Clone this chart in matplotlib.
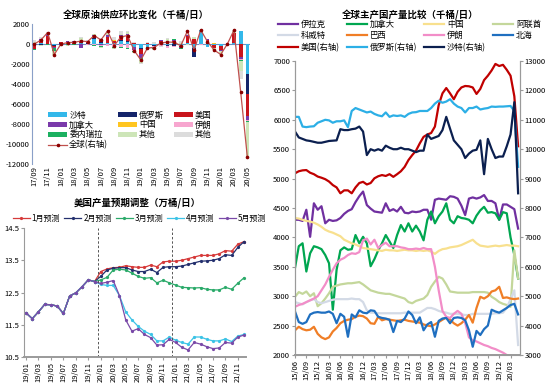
import numpy as np
import matplotlib
matplotlib.use("Agg")
import matplotlib.pyplot as plt
from matplotlib.patches import Patch
from matplotlib.lines import Line2D

plt.rcParams['font.family'] = ['Noto Sans CJK SC', 'DejaVu Sans']
plt.rcParams['axes.unicode_minus'] = False

# ---------------- panel 1: monthly change in global supply (kb/d) ----------------
supply_months = ['17/09', '17/10', '17/11', '17/12', '18/01', '18/02', '18/03', '18/04', '18/05',
                 '18/06', '18/07', '18/08', '18/09', '18/10', '18/11', '18/12', '19/01', '19/02',
                 '19/03', '19/04', '19/05', '19/06', '19/07', '19/08', '19/09', '19/10', '19/11',
                 '19/12', '20/01', '20/02', '20/03', '20/04', '20/05']
saudi_chg = [-100, 150, 50, -100, 50, 0, 50, 100, 50, 500, 150, 100, 100, 300, 200, -300, -400,
             -300, -100, 50, -50, 100, -200, 100, -400, 1400, -300, -100, -150, 0, 100, 1300, -3000]
russia_chg = [0, -50, 0, -50, 50, 50, 0, 0, 50, 150, 100, 50, 50, 100, 100, 50, -50, 50, -50, 50,
              -100, -150, 0, 50, -900, 50, 50, 50, 0, 0, 50, 0, -2000]
us_chg = [-400, 300, 800, -100, 100, 200, 200, 200, 200, 200, 250, 600, 200, 400, 600, 100, -500,
          100, 0, 250, 300, 200, -100, 700, 500, 0, 400, -300, -400, 50, 1000, -1300, -2200]
canada_chg = [100, 50, 200, -100, -50, 50, 50, -350, 50, 100, -100, 200, 0, 100, 100, -300, -400,
              0, 0, 50, 0, 100, -50, 100, 0, 0, 100, 0, -100, 0, 0, -200, -400]
china_chg = [0, -20, 0, 0, 10, 0, 0, 0, -20, 0, 0, 0, 20, 0, 0, 0, 30, 0, 0, 0, 0, 30, 0, 0, 0, 0,
             0, 30, 0, -50, 0, 0, 0]
iran_chg = [0, 0, 0, 0, 0, 0, 0, 0, -50, -100, -100, -150, -300, -300, -400, -100, 0, 0, -100,
            -200, -250, -100, -50, 0, 0, -50, 0, 0, 0, 0, 0, -100, -100]
venez_chg = [-50, -50, -50, -300, -50, -100, -50, -50, -50, -50, -50, -50, -50, -50, -50, -50,
             -100, -200, -200, 0, 0, 50, -50, 0, 0, 0, 0, 0, -50, 0, 0, -50, -100]
other1_chg = [100, -100, 100, -400, -100, -100, 50, 300, 0, 50, -100, 200, -100, 150, 250, -150,
              -400, -100, -100, 0, 200, -50, 150, -50, 200, 0, 0, -200, -300, 0, 200, -1000, -3400]
other2_chg = [250, 200, 100, -50, -10, 50, -50, 100, 70, 0, 150, 150, 330, 300, 100, 100, -180,
              50, 200, -100, 100, 20, 150, 400, 0, 0, 0, 0, -50, 0, 50, -800, -100]
global_chg = [0, 400, 1150, -1050, 0, 140, 170, 300, 240, 850, 400, 1300, -150, 700, 850, -650,
              -1600, -400, -350, 100, 200, 170, -170, 1300, -600, 1400, 250, -600, -1050, 0, 1400,
              -4800, -11300]

# ---------------- panel 2: US output forecast revisions (10k b/d) ----------------
fc_months = ['19/01', '19/02', '19/03', '19/04', '19/05', '19/06', '19/07', '19/08', '19/09', '19/10',
             '19/11', '19/12', '20/01', '20/02', '20/03', '20/04', '20/05', '20/06', '20/07', '20/08',
             '20/09', '20/10', '20/11', '20/12', '21/01', '21/02', '21/03', '21/04', '21/05', '21/06',
             '21/07', '21/08', '21/09', '21/10', '21/11', '21/12']
hist_us = [11.87, 11.69, 11.9, 12.13, 12.12, 12.08, 11.85, 12.39, 12.49, 12.68, 12.89, 12.84]
fc_jan = [13.15, 13.23, 13.27, 13.28, 13.33, 13.3, 13.28, 13.28, 13.35, 13.3, 13.45, 13.47,
          13.47, 13.5, 13.55, 13.6, 13.65, 13.65, 13.65, 13.7, 13.8, 13.78, 14.0, 14.08]
fc_feb = [13.0, 13.2, 13.25, 13.27, 13.27, 13.2, 13.15, 13.15, 13.22, 13.12, 13.28, 13.3,
          13.3, 13.32, 13.37, 13.42, 13.47, 13.48, 13.5, 13.55, 13.67, 13.65, 13.9, 14.08]
fc_mar = [12.89, 12.97, 13.2, 13.22, 13.2, 13.1, 13.0, 12.94, 12.96, 12.8, 12.88, 12.8,
          12.73, 12.66, 12.65, 12.64, 12.65, 12.6, 12.58, 12.58, 12.66, 12.6, 12.79, 12.96]
fc_apr = [12.75, 12.72, 12.72, 12.4, 11.9, 11.65, 11.45, 11.3, 11.2, 11.0, 11.0, 11.12,
          11.02, 10.95, 10.9, 11.12, 11.12, 11.05, 11.0, 11.0, 11.06, 10.98, 11.15, 11.2]
fc_may = [12.78, 12.82, 12.87, 12.4, 11.65, 11.3, 11.38, 11.2, 11.1, 10.87, 10.88, 11.05,
          10.95, 10.8, 10.72, 10.95, 10.9, 10.82, 10.76, 10.78, 10.95, 10.93, 11.12, 11.18]

# ---------------- panel 3: output by producer (kb/d) ----------------
prod_ticks = ['15/06', '15/09', '15/12', '16/03', '16/06', '16/09', '16/12', '17/03', '17/06',
              '17/09', '17/12', '18/03', '18/06', '18/09', '18/12', '19/03', '19/06', '19/09',
              '19/12', '20/03']
iraq = [4300, 4300, 4280, 4470, 4010, 4580, 4470, 4530, 4240, 4300, 4280, 4290, 4330, 4400, 4450,
        4480, 4600, 4700, 4780, 4550, 4490, 4440, 4430, 4420, 4580, 4450, 4480, 4440, 4520, 4420,
        4410, 4440, 4430, 4440, 4470, 4470, 4300, 4640, 4660, 4650, 4640, 4700, 4690, 4660, 4540,
        4380, 4660, 4680, 4660, 4680, 4720, 4620, 4620, 4580, 4300, 4560, 4560, 4520, 4480, 4150]
canada = [3480, 3850, 3900, 3420, 3730, 3850, 3830, 3800, 3700, 3560, 2770, 3450, 3780, 3830, 3790,
          3800, 4040, 3900, 4010, 3900, 3510, 3630, 3780, 3900, 4040, 3930, 3820, 4040, 4210, 4100,
          4240, 4100, 4200, 4100, 3950, 4300, 4440, 4240, 4360, 4440, 4580, 4300, 4240, 4360, 4330,
          4320, 4300, 4240, 4370, 4460, 4520, 4420, 4430, 4410, 4300, 4430, 4410, 4000, 3700, 3300]
china = [4330, 4320, 4300, 4280, 4270, 4250, 4220, 4180, 4130, 4100, 4080, 4050, 4020, 3960, 3930,
         3900, 3880, 3850, 3820, 3810, 3800, 3790, 3780, 3770, 3790, 3780, 3780, 3770, 3780, 3790,
         3780, 3780, 3770, 3780, 3770, 3780, 3760, 3720, 3770, 3800, 3810, 3830, 3840, 3850, 3870,
         3900, 3930, 3960, 3900, 3860, 3850, 3840, 3850, 3860, 3850, 3860, 3870, 3860, 3860, 3850]
uae = [2990, 3070, 3040, 3080, 3000, 3050, 2830, 2880, 2960, 3050, 3160, 3180, 3200, 3210, 3220,
       3220, 3230, 3240, 3200, 3150, 3100, 3080, 3060, 3050, 3040, 3040, 3020, 3000, 2980, 2960,
       2900, 2880, 2920, 2940, 2960, 3020, 3160, 3250, 3330, 3300, 3200, 3080, 3070, 3060, 3060,
       3060, 3060, 3070, 3070, 3070, 3070, 3060, 2990, 2950, 2900, 2870, 2850, 2820, 3780, 3300]
kuwait = [2900, 2880, 2860, 2900, 2930, 2950, 2900, 2880, 2900, 2920, 2940, 2950, 2950, 2950, 2950,
          2960, 2950, 2950, 2900, 2760, 2720, 2720, 2710, 2710, 2710, 2710, 2710, 2710, 2710, 2720,
          2720, 2720, 2720, 2720, 2760, 2800, 2800, 2780, 2750, 2730, 2720, 2700, 2700, 2700, 2690,
          2680, 2680, 2700, 2700, 2700, 2700, 2700, 2700, 2710, 2710, 2720, 2800, 2950, 3100, 2170]
brazil = [2420, 2480, 2440, 2420, 2430, 2480, 2360, 2300, 2270, 2300, 2400, 2460, 2540, 2580, 2600,
          2610, 2650, 2670, 2660, 2620, 2540, 2530, 2650, 2590, 2610, 2600, 2590, 2580, 2590, 2600,
          2580, 2570, 2560, 2550, 2520, 2500, 2490, 2520, 2560, 2600, 2640, 2600, 2540, 2500, 2540,
          2600, 2680, 2550, 2800, 2990, 2960, 3000, 3080, 3100, 3160, 2970, 2980, 2960, 2950, 2960]
iran = [2820, 2850, 2870, 2900, 2930, 2960, 3000, 3100, 3200, 3330, 3450, 3560, 3620, 3650, 3700,
        3730, 3720, 3750, 3950, 3980, 3880, 3960, 3820, 3870, 3910, 3850, 3850, 3850, 3830, 3820,
        3800, 3800, 3810, 3800, 3820, 3800, 3800, 3500, 3100, 2750, 2650, 2630, 2700, 2750, 2700,
        2550, 2300, 2250, 2230, 2200, 2170, 2150, 2120, 2100, 2070, 2040, 2000, 1990, 1980, 1970]
north_sea = [2740, 2560, 2530, 2560, 2690, 2720, 2730, 2720, 2720, 2740, 2700, 2540, 2700, 2650,
             2310, 2690, 2640, 2760, 2720, 2710, 2760, 2750, 2650, 2630, 2620, 2600, 2390, 2580,
             2560, 2620, 2740, 2680, 2540, 2640, 2420, 2520, 2560, 2310, 2580, 2620, 2630, 2540,
             2630, 2640, 2630, 2590, 2420, 2140, 2410, 2340, 2440, 2500, 2770, 2740, 2720, 2760,
             2800, 2850, 2870, 2690]
us_prod = [9180, 9250, 9280, 9290, 9200, 9150, 9070, 9030, 8980, 8900, 8780, 8700, 8500, 8600, 8600,
           8500, 8700, 8850, 8890, 8800, 8850, 9010, 9080, 9120, 9090, 9150, 9060, 9150, 9250, 9400,
           9630, 9800, 9950, 10200, 10420, 10500, 10550, 10770, 11500, 11900, 12080, 11900, 11700,
           11950, 12100, 12150, 12140, 12100, 11880, 12050, 12350, 12500, 12680, 12900, 12830, 12870,
           12700, 12500, 11800, 10100]
russia_prod = [11100, 11100, 10770, 10750, 10770, 10780, 10900, 10950, 11000, 10980, 10900, 10950,
               10950, 10980, 10750, 11300, 11400, 11350, 11300, 11250, 11280, 11200, 11150, 11120,
               11250, 11100, 11150, 11130, 11150, 11100, 11200, 11250, 11260, 11300, 11300, 11300,
               11400, 11550, 11650, 11580, 11620, 11700, 11550, 11450, 11400, 11250, 11400, 11400,
               11450, 11350, 11380, 11400, 11450, 11440, 11450, 11450, 11460, 11470, 11300, 9400]
saudi_prod = [10600, 10400, 10350, 10300, 10280, 10250, 10220, 10220, 10250, 10280, 10290, 10300,
              10680, 10650, 10650, 10680, 10700, 10770, 10600, 9800, 10000, 9950, 10000, 9950,
              10120, 10050, 10000, 10000, 10050, 10000, 10000, 9950, 9900, 9950, 9950, 10500,
              10350, 10400, 10450, 10650, 11100, 10700, 10300, 10150, 10000, 9700, 9850, 9950,
              9980, 10300, 9150, 10350, 10000, 9700, 9750, 9750, 10100, 10500, 11600, 8500]

# ---------------- figure ----------------
fig = plt.figure(figsize=(5.5, 3.87), dpi=100)
tick_fs = 5.5
axis_grey = '#9a9a9a'

# ===== panel 1 =====
ax1 = fig.add_axes([32/550, 1-164/387, 218/550, 140/387])
x1 = np.arange(len(supply_months))
bar_series = [
    ('沙特', saudi_chg, '#33B8EA'),
    ('俄罗斯', russia_chg, '#14246A'),
    ('美国', us_chg, '#C8141C'),
    ('加拿大', canada_chg, '#7A3AAA'),
    ('中国', china_chg, '#FFC520'),
    ('伊朗', iran_chg, '#F7A6CF'),
    ('委内瑞拉', venez_chg, '#1BB060'),
    ('其他', other1_chg, '#CDE5B8'),
    ('其他', other2_chg, '#DCDCDC'),
]
pos_base = np.zeros(len(x1))
neg_base = np.zeros(len(x1))
handles = {}
for name, vals, col in bar_series:
    v = np.array(vals, dtype=float)
    base = np.where(v >= 0, pos_base, neg_base)
    ax1.bar(x1, v, bottom=base, width=0.55, color=col, zorder=2)
    pos_base += np.where(v >= 0, v, 0)
    neg_base += np.where(v < 0, v, 0)
    handles.setdefault(name + col, Patch(facecolor=col, label=name))

ax1.axhline(0, color='#6f8fc0', lw=0.8, zorder=1)
ax1.plot(x1, global_chg, color='#C0504D', lw=0.9, marker='o', ms=1.6,
         mfc='#8B0000', mec='#8B0000', zorder=3)

ax1.set_xlim(-0.35, 32.4)
ax1.set_ylim(-12000, 2000)
ax1.set_yticks(np.arange(-12000, 2001, 2000))
ax1.set_xticks(x1[::2])
ax1.set_xticklabels(supply_months[::2], rotation=90)
ax1.tick_params(axis='both', labelsize=tick_fs, length=0, pad=1.5)
for s in ['top', 'right', 'bottom']:
    ax1.spines[s].set_visible(False)
ax1.spines['left'].set_color('#8aa0c8')
ax1.spines['left'].set_linewidth(0.8)

hlist = list(handles.values())
line_h = Line2D([], [], color='#C0504D', lw=0.9, marker='o', ms=1.6,
                mfc='#8B0000', mec='#8B0000', label='全球(右轴)')
# column-major order so rows read 沙特/俄罗斯/美国 ...
order = [hlist[0], hlist[3], hlist[6], line_h, hlist[1], hlist[4], hlist[7], hlist[2], hlist[5], hlist[8]]
ax1.legend(handles=order, ncol=3, loc='upper left', bbox_to_anchor=(0.06, 0.405),
           frameon=False, fontsize=6, handlelength=2.2, handleheight=0.5,
           columnspacing=1.2, labelspacing=0.1, handletextpad=0.3, borderaxespad=0)

fig.text(136/550, 1-15/387, '全球原油供应环比变化（千桶/日）', ha='center', va='center',
         fontsize=6.8, fontweight='bold')

# ===== panel 2 =====
ax2 = fig.add_axes([24/550, 1-357/387, 222/550, 129/387])
x2 = np.arange(len(fc_months))
fc_series = [
    ('1月预测', fc_jan, '#D63A3A'),
    ('2月预测', fc_feb, '#24306E'),
    ('3月预测', fc_mar, '#2BAA6A'),
    ('4月预测', fc_apr, '#3CC3E6'),
    ('5月预测', fc_may, '#7A4AA8'),
]
for name, vals, col in fc_series:
    y = hist_us + vals
    ax2.plot(x2, y, color=col, lw=0.9, marker='o', ms=1.3, label=name)
for xv in [11.6, 23.5]:
    ax2.axvline(xv, color='#555555', lw=0.7, ls=(0, (2.5, 2)))
ax2.set_xlim(-0.32, 35.3)
ax2.set_ylim(10.5, 14.5)
ax2.set_yticks([10.5, 11.5, 12.5, 13.5, 14.5])
ax2.set_yticklabels(['10.5', '11.5', '12.5', '13.5', '14.5'])
ax2.set_xticks(x2[::2])
ax2.set_xticklabels(fc_months[::2], rotation=90)
ax2.tick_params(axis='both', labelsize=tick_fs, pad=1.5)
ax2.tick_params(axis='y', length=2, color=axis_grey)
ax2.tick_params(axis='x', length=2, color=axis_grey)
for s in ['top', 'right']:
    ax2.spines[s].set_visible(False)
for s in ['left', 'bottom']:
    ax2.spines[s].set_color(axis_grey)
    ax2.spines[s].set_linewidth(0.8)
ax2.spines['bottom'].set_linewidth(1.4)
ax2.legend(ncol=5, loc='lower center', bbox_to_anchor=(0.52, 1.0), frameon=False,
           fontsize=5.8, handlelength=2.1, columnspacing=0.5, handletextpad=0.25,
           borderaxespad=0.2)
fig.text(137/550, 1-203/387, '美国产量预期调整（万桶/日）', ha='center', va='center',
         fontsize=6.8, fontweight='bold')

# ===== panel 3 =====
ax3 = fig.add_axes([295/550, 1-355/387, 225/550, 294/387])
ax3r = ax3.twinx()
x3 = np.arange(len(iraq))
left_series = [
    ('伊拉克', iraq, '#7030A0'),
    ('加拿大', canada, '#00A650'),
    ('中国', china, '#F8E08E'),
    ('阿联酋', uae, '#C4D79B'),
    ('科威特', kuwait, '#D3DAE6'),
    ('巴西', brazil, '#F07E26'),
    ('伊朗', iran, '#F28DC8'),
    ('北海', north_sea, '#1F6FC0'),
]
right_series = [
    ('美国(右轴)', us_prod, '#C00000'),
    ('俄罗斯(右轴)', russia_prod, '#2CAFE6'),
    ('沙特(右轴)', saudi_prod, '#0B1F4F'),
]
lh = {}
for name, vals, col in left_series:
    lh[name], = ax3.plot(x3, vals, color=col, lw=1.6, label=name)
for name, vals, col in right_series:
    lh[name], = ax3r.plot(x3, vals, color=col, lw=1.6, label=name)

ax3.set_xlim(0, 59.5)
ax3.set_ylim(2000, 7000)
ax3r.set_ylim(3000, 13000)
ax3.set_yticks(np.arange(2000, 7001, 500))
ax3r.set_yticks(np.arange(3000, 13001, 1000))
ax3.set_xticks(np.arange(0, 60, 3))
ax3.set_xticklabels(prod_ticks, rotation=90)
for a in (ax3, ax3r):
    a.tick_params(axis='both', labelsize=tick_fs, length=2, color=axis_grey, pad=1.5)
    a.spines['top'].set_visible(False)
    for s in ['left', 'right', 'bottom']:
        a.spines[s].set_color(axis_grey)
        a.spines[s].set_linewidth(0.8)
ax3.spines['bottom'].set_linewidth(1.4)

leg_order = ['伊拉克', '科威特', '美国(右轴)', '加拿大', '巴西', '俄罗斯(右轴)',
             '中国', '伊朗', '沙特(右轴)', '阿联酋', '北海']
ax3r.legend(handles=[lh[k] for k in leg_order], ncol=4, loc='lower left',
            bbox_to_anchor=(-0.09, 1.02), frameon=False, fontsize=6,
            handlelength=2.4, columnspacing=0.9, labelspacing=0.28,
            handletextpad=0.3, borderaxespad=0)
fig.text(410/550, 1-15/387, '全球主产国产量比较（千桶/日）', ha='center', va='center',
         fontsize=6.8, fontweight='bold')

fig.savefig('out.png', dpi=100)
